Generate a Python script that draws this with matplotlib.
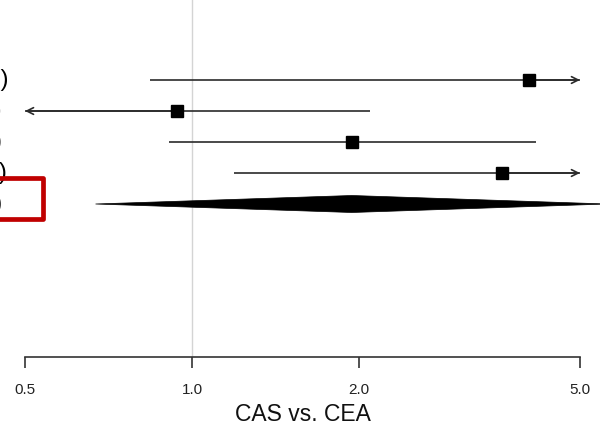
import matplotlib.pyplot as plt
from matplotlib.patches import Polygon, Rectangle
from matplotlib.transforms import blended_transform_factory

plt.rcParams['font.family'] = ['Liberation Sans', 'DejaVu Sans']

# studies (only the closing bracket survives the crop)
labels = ['Brooks et al. (2004)', 'Ederle et al. (2010)', 'Brott et al. (2010)',
          'Mas et al. (2006)', 'RE Model (I\u00b2 = 0%)']
est = [4.05, 0.94, 1.94, 3.62]
lower = [0.84, 0.30, 0.91, 1.19]
upper = [9.50, 2.09, 4.17, 12.0]
pooled_est = 1.94
pooled_lo = 0.67
pooled_hi = 5.6
ticks = [0.5, 1.0, 2.0, 5.0]
tick_labels = ['0.5', '1.0', '2.0', '5.0']
xlabel = 'CAS vs. CEA'


def main():
    W, H = 600, 428
    fig = plt.figure(figsize=(W / 100, H / 100), dpi=100)
    ax = fig.add_axes([25 / W, 1 - 357 / H, 555 / W, 357 / H])
    ax.set_xscale('log')
    xmin, xmax = 0.5, 5.0
    ax.set_xlim(xmin, xmax)
    # row 1 sits 80 px below the top, rows are 31 px apart
    ax.set_ylim(1 + 277 / 31, 1 - 80 / 31)

    ax.axvline(1.0, color='#d4d4d4', lw=1.0, zorder=0)

    for i, (e, lo, hi) in enumerate(zip(est, lower, upper)):
        y = i + 1
        a = max(lo, xmin)
        b = min(hi, xmax)
        ax.plot([a, b], [y, y], color='#2b2b2b', lw=1.2, solid_capstyle='butt')
        if hi > xmax:
            ax.annotate('', xy=(xmax, y), xytext=(e, y),
                        arrowprops=dict(arrowstyle='->', color='#2b2b2b', lw=1.2,
                                        mutation_scale=12, shrinkA=0, shrinkB=0))
        if lo < xmin:
            ax.annotate('', xy=(xmin, y), xytext=(e, y),
                        arrowprops=dict(arrowstyle='->', color='#2b2b2b', lw=1.2,
                                        mutation_scale=12, shrinkA=0, shrinkB=0))
        ax.plot(e, y, marker='s', color='black', markersize=8.5, zorder=3)

    # pooled diamond
    yd = len(est) + 1
    hh = 8.5 / 31
    diamond = Polygon([(pooled_lo, yd), (pooled_est, yd - hh), (pooled_hi, yd), (pooled_est, yd + hh)],
                      closed=True, facecolor='black', edgecolor='black', lw=0.5, clip_on=False)
    ax.add_patch(diamond)

    # labels on the left (cut off by the figure edge)
    trans = blended_transform_factory(fig.transFigure, ax.transData)
    ends_px = [8, 2, 2, 7, 2]
    for i, (lab, xe) in enumerate(zip(labels, ends_px)):
        ax.text(xe / W, i + 1, lab, transform=trans,
                ha='right', va='center', fontsize=17, color='black')

    for s in ['top', 'right', 'left']:
        ax.spines[s].set_visible(False)
    ax.spines['bottom'].set_color('#333333')
    ax.spines['bottom'].set_linewidth(1.2)
    ax.set_yticks([])
    ax.set_xticks(ticks)
    ax.set_xticklabels(tick_labels)
    ax.minorticks_off()
    ax.tick_params(axis='x', direction='out', length=8, width=1.2, color='#333333',
                   labelsize=11, pad=11, labelcolor='#222222')
    ax.set_xlabel(xlabel, fontsize=16.5, labelpad=4, color='#111111')

    # red highlight box around the pooled label
    box = Rectangle((-10 / W, 1 - 219 / H), 53 / W, 41 / H, transform=fig.transFigure,
                    fill=False, edgecolor='#c00000', lw=3.4, joinstyle='round', clip_on=False)
    fig.patches.append(box)

    fig.savefig('out.png', dpi=100)


if __name__ == '__main__':
    main()
